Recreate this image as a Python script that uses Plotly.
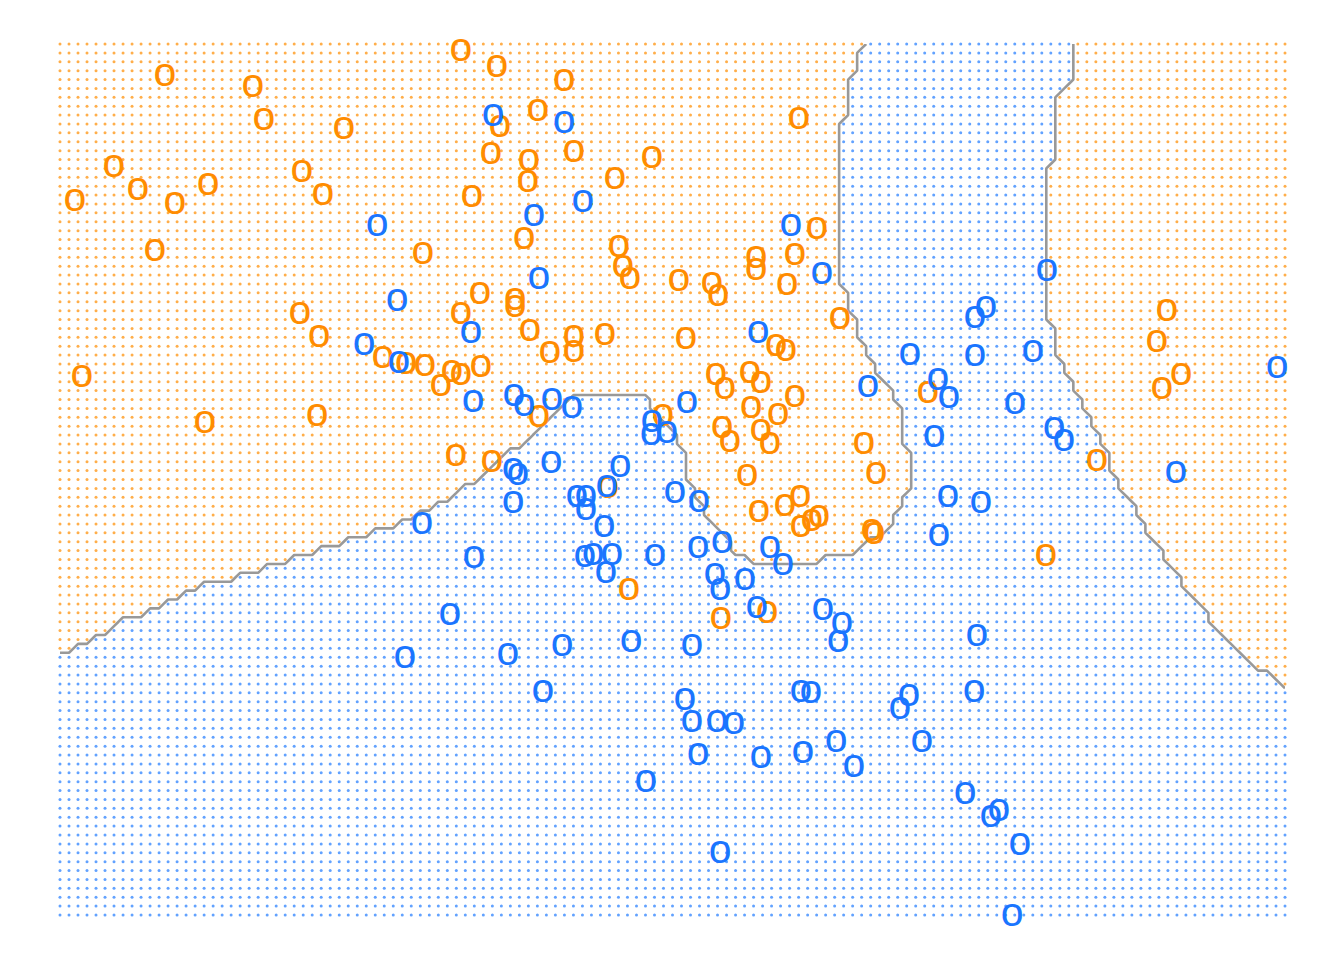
import numpy as np
import plotly.graph_objects as go

# ---------------- data (feature space X1, X2) ----------------
orange_x1 = [-0.374, -0.174, -2.017, -1.529, 0.198, -1.468, -1.024, 1.502, -0.158, 0.053,
             -2.300, -2.167, -2.517, -1.962, -1.778, -1.257, -1.140, -0.208, 0.003, -0.002,
             0.253, 0.686, 0.481, -0.313, -2.073, -0.585, -0.024, 0.503, 0.525, 0.564,
             1.602, 1.264, 1.264, 1.480, 1.436, 0.836, 1.019, 1.053, -0.269, -0.074,
             -0.074, -0.374, -1.268, -1.162, 0.009, 0.253, 0.253, 0.425, 0.120, 0.875,
             1.730, -2.478, -0.807, -0.679, -0.574, -0.424, -0.374, -0.485, -0.263, 1.375,
             1.430, 1.230, 1.291, 1.041, 1.091, 1.480, 1.236, 1.386, -1.173, -1.795,
             0.059, 0.747, 1.075, 1.119, 1.291, 1.341, 1.863, 1.930, -0.402, -0.202,
             1.214, 0.442, 1.508, 1.424, 1.280, 1.513, 1.574, 1.613, 1.907, 1.919,
             0.558, 1.069, 1.325, 2.873, 3.156, 2.218, 3.545, 3.489, 3.623, 3.517]
orange_x2 = [2.861, 2.771, 2.720, 2.658, 2.692, 2.472, 2.422, 2.478, 2.433, 2.523,
             2.208, 2.079, 2.017, 2.000, 2.107, 2.180, 2.050, 2.281, 2.242, 2.124,
             2.292, 2.259, 2.140, 2.039, 1.735, 1.719, 1.803, 1.758, 1.645, 1.578,
             1.859, 1.696, 1.629, 1.713, 1.544, 1.567, 1.550, 1.482, 1.493, 1.460,
             1.420, 1.381, 1.381, 1.252, 1.285, 1.252, 1.167, 1.263, 1.162, 1.240,
             1.353, 1.027, 1.133, 1.100, 1.088, 1.055, 1.038, 0.976, 1.083, 1.201,
             1.173, 1.049, 0.993, 1.038, 0.959, 0.914, 0.852, 0.813, 0.807, 0.768,
             0.802, 0.807, 0.740, 0.661, 0.723, 0.650, 0.650, 0.481, 0.582, 0.548,
             0.470, 0.402, 0.351, 0.301, 0.267, 0.183, 0.216, 0.239, 0.160, 0.143,
             -0.172, -0.335, -0.301, 0.019, 0.554, 0.937, 1.398, 1.223, 1.038, 0.959]

blue_x1 = [-0.196, 0.198, 0.303, 0.031, -0.840, 0.059, 1.458, 1.630, 2.879, -0.729,
           -0.319, -0.912, -0.718, 1.275, 2.540, 2.479, 2.118, 2.479, 2.801, 1.885,
           2.274, 2.335, 2.701, 2.252, 2.918, 2.973, 3.595, 2.329, 2.512, 2.279,
           4.156, -0.307, -0.080, -0.024, 0.131, 0.242, 0.880, 0.686, 0.681, 0.769,
           -0.085, -0.058, 0.126, 0.509, 0.436, 0.814, 0.947, -0.085, 0.270, 0.320,
           0.320, 0.420, -0.591, -0.302, 0.314, 0.359, 0.464, 0.431, 0.703, 0.942,
           1.075, 1.341, 1.413, 1.036, 1.064, 1.202, 1.269, 1.635, 1.741, 1.719,
           -0.435, -0.685, -0.113, 0.187, 0.570, 0.908, 0.081, 0.869, 0.908, 1.047,
           1.141, 1.513, 1.569, 1.708, 0.942, 1.291, 1.524, 1.807, 0.653, 1.064,
           2.490, 2.474, 2.113, 2.063, 2.185, 2.424, 2.612, 2.568, 2.729, 2.685]
blue_x2 = [2.495, 2.456, 2.011, 1.932, 1.876, 1.578, 1.876, 1.606, 1.623, 1.454,
           1.274, 1.207, 1.105, 1.274, 1.415, 1.359, 1.150, 1.145, 1.167, 0.970,
           1.010, 0.908, 0.875, 0.689, 0.734, 0.666, 0.486, 0.351, 0.318, 0.132,
           1.077, 0.886, 0.920, 0.863, 0.897, 0.852, 0.880, 0.773, 0.700, 0.712,
           0.503, 0.475, 0.543, 0.520, 0.408, 0.374, 0.323, 0.318, 0.351, 0.351,
           0.278, 0.183, 0.200, 0.008, 0.014, 0.025, 0.025, -0.076, 0.019, 0.064,
           0.093, 0.064, -0.031, -0.087, -0.172, -0.116, -0.273, -0.284, -0.363, -0.464,
           -0.312, -0.554, -0.537, -0.487, -0.464, -0.487, -0.746, -0.791, -0.914, -0.914,
           -0.926, -0.746, -0.751, -1.027, -1.100, -1.117, -1.089, -1.168, -1.252, -1.651,
           -0.431, -0.746, -0.768, -0.841, -1.027, -1.320, -1.415, -1.449, -1.606, -2.006]

# decision boundary, left/centre part then right part
boundary_left_x1 = [-2.656, -2.600, -2.239, -1.823, -1.268, -0.713, -0.446, -0.280, 0.270, 0.631,
                    0.803, 0.875, 0.897, 0.997, 1.164, 1.325, 1.519, 1.719, 1.841, 1.952,
                    2.018, 2.068, 2.113, 2.113, 2.091, 2.063, 1.980, 1.913, 1.813, 1.763,
                    1.719, 1.719, 1.769, 1.819, 1.861, 1.861]
boundary_left_x2 = [-0.577, -0.548, -0.340, -0.155, 0.020, 0.205, 0.352, 0.442, 0.925, 0.925,
                    0.712, 0.560, 0.447, 0.239, 0.025, -0.025, -0.025, 0.025, 0.053, 0.149,
                    0.166, 0.323, 0.425, 0.571, 0.700, 0.852, 0.982, 1.122, 1.319, 1.471,
                    1.724, 2.276, 2.602, 2.821, 2.877, 2.951]
boundary_right_x1 = [3.015, 3.015, 2.945, 2.923, 2.895, 2.895, 2.940, 2.951, 3.006, 3.051,
                     3.106, 3.173, 3.217, 3.262, 3.328, 3.395, 3.451, 3.506, 3.589, 3.689,
                     3.784, 4.044, 4.089, 4.189, 4.255]
boundary_right_x2 = [2.951, 2.697, 2.641, 2.247, 2.191, 1.347, 1.291, 1.122, 1.038, 0.925,
                     0.813, 0.672, 0.560, 0.458, 0.352, 0.250, 0.138, 0.053, -0.059, -0.211,
                     -0.340, -0.605, -0.605, -0.706, -0.762]

# prediction grid
grid_x1 = np.round(np.arange(-2.6, 4.2001, 0.05), 3)
grid_x2 = np.round(np.arange(-2.0, 2.9001, 0.05), 3)

# ---------------- classify grid by the boundary ----------------
poly_x = np.array(boundary_left_x1 + boundary_right_x1 + [4.255, -2.656])
poly_y = np.array(boundary_left_x2 + boundary_right_x2 + [-2.1, -2.1])

GX, GY = np.meshgrid(grid_x1, grid_x2)
inside = np.zeros(GX.shape, dtype=bool)
n = len(poly_x)
j = n - 1
for i in range(n):
    xi, yi, xj, yj = poly_x[i], poly_y[i], poly_x[j], poly_y[j]
    den = (yj - yi) if (yj - yi) != 0 else 1e-12
    cond = ((yi > GY) != (yj > GY)) & (GX < (xj - xi) * (GY - yi) / den + xi)
    inside ^= cond
    j = i

z = inside.astype(float)

ORANGE = "#FF8C00"
BLUE = "#1A75FF"
ORANGE_DOT = "#FFAE4A"
BLUE_DOT = "#62A2FF"

fig = go.Figure()
fig.add_trace(go.Scatter(x=GX[~inside].ravel(), y=GY[~inside].ravel(), mode="markers",
                         marker=dict(size=3, color=ORANGE_DOT), hoverinfo="skip", showlegend=False))
fig.add_trace(go.Scatter(x=GX[inside].ravel(), y=GY[inside].ravel(), mode="markers",
                         marker=dict(size=3, color=BLUE_DOT), hoverinfo="skip", showlegend=False))
fig.add_trace(go.Contour(x=grid_x1, y=grid_x2, z=z, autocontour=False,
                         contours=dict(start=0.5, end=0.5, size=1, coloring="none"),
                         line=dict(color="#999999", width=2.6, smoothing=0),
                         showscale=False, hoverinfo="skip"))
fig.add_trace(go.Scatter(x=orange_x1, y=orange_x2, mode="text", text=["o"] * len(orange_x1),
                         textposition="middle center",
                         textfont=dict(family="Liberation Sans, Arial, sans-serif", size=41, color=ORANGE),
                         hoverinfo="skip", showlegend=False))
fig.add_trace(go.Scatter(x=blue_x1, y=blue_x2, mode="text", text=["o"] * len(blue_x1),
                         textposition="middle center",
                         textfont=dict(family="Liberation Sans, Arial, sans-serif", size=41, color=BLUE),
                         hoverinfo="skip", showlegend=False))

fig.update_layout(
    width=1344, height=960, autosize=False,
    margin=dict(l=0, r=0, t=0, b=0, pad=0),
    paper_bgcolor="white", plot_bgcolor="white",
    showlegend=False,
    xaxis=dict(range=[-2.933, 4.5275], visible=False, showgrid=False, zeroline=False, fixedrange=True),
    yaxis=dict(range=[-2.2532, 3.1475], visible=False, showgrid=False, zeroline=False, fixedrange=True),
)

fig.write_html("out.html")
